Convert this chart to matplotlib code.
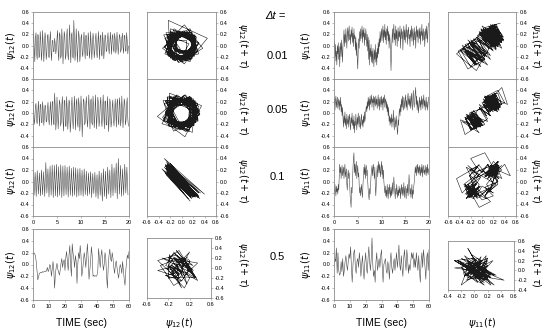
import numpy as np
import matplotlib.pyplot as plt

plt.rcParams['font.family'] = ['Liberation Sans', 'DejaVu Sans']

# time-step values shown in the middle column
dt_labels = ['0.01', '0.05', '0.1', '0.5']

# psi_12, dt = 0.01 (4 samples per cycle, 0-20 s)
psi12_a = [
    .04, .27, -.06, -.29, .13, .23, -.15, -.25, .20, .17, -.22, -.19, .25, .09, -.27, -.11,
    .27, .01, -.29, -.03, .23, .13, -.25, -.15, .17, .20, -.19, -.22, .09, .25, -.11, -.27,
    .09, .09, -.11, -.11, .13, .03, -.15, -.05,
    .13, .27, -.13, -.27, .23, .19, -.23, -.19, .30, .05, -.33, -.05, .25, .17, -.25, -.17,
    .15, .30, -.15, -.26, .05, .37, -.05, -.31, .19, .23, -.19, -.23, .45, .13, -.27, -.13,
    .30, .03, -.30, -.03, .26, .15, -.29, -.15,
    .14, .20, -.14, -.20, .06, .24, -.06, -.24, .18, .18, -.18, -.18, .23, .09, -.23, -.09,
    .25, .01, -.25, -.01, .22, .12, -.22, -.12, .12, .22, -.12, -.22, .02, .25, -.02, -.25,
    .16, .19, -.16, -.19, .24, .06, -.24, -.06,
    .19, .17, -.11, -.09, .11, .23, -.03, -.15, .04, .24, .04, -.16, .15, .20, -.07, -.12,
    .22, .12, -.14, -.04, .24, .06, -.16, .02, .20, .15, -.12, -.07, .12, .22, -.04, -.14,
    .18, .18, -.10, -.10, .23, .09, -.15, -.01,
]

# psi_12, dt = 0.05
psi12_b = [
    .18, .10, -.20, -.12, .12, .17, -.14, -.19, .03, .21, -.05, -.23, .15, .15, -.17, -.17,
    .20, .05, -.22, -.07, .14, .12, -.16, -.14, .07, .19, -.09, -.21, -.01, .20, -.01, -.22,
    .18, .21, -.18, -.21, .35, .13, -.30, -.13, .28, .02, -.28, -.02, .23, .16, -.23, -.16,
    .14, .29, -.14, -.32, .22, .22, -.22, -.24, .29, .08, -.29, -.08, .23, .19, -.34, -.19,
    .10, .28, -.10, -.28, .03, .30, -.03, -.30, .17, .25, -.17, -.25, .27, .13, -.32, -.13,
    .30, .06, -.42, -.06, .25, .21, -.21, -.17, .15, .29, -.11, -.25, .05, .32, -.01, -.28,
    .21, .25, -.17, -.21, .30, .12, -.26, -.08, .32, .03, -.28, .01, .28, .17, -.24, -.13,
    .17, .28, -.13, -.24, .07, .32, -.03, -.28, .21, .21, -.21, -.21, .29, .08, -.33, -.08,
    .25, .17, -.25, -.17, .11, .23, -.11, -.23, .02, .25, -.02, -.25, .18, .25, -.14, -.21,
    .27, .14, -.23, -.10, .30, .04, -.26, .00, .25, .18, -.21, -.14, .14, .27, -.10, -.23,
]

# psi_12, dt = 0.1 (peak / trough pairs)
psi12_c = [
    .18, -.24, .16, -.26, .19, -.22, .15, -.25, .20, -.23, .17, -.26, .33, -.20, .22, -.27,
    .27, -.24, .29, -.28, .28, -.25, .30, -.27, .26, -.24, .29, -.28, .27, -.25, .28, -.23,
    .25, -.27, .27, -.24, .23, -.26, .25, -.24, .24, -.27, .22, -.25, .23, -.24, .20, -.26,
    .22, -.23, .18, -.25, .15, -.22, .17, -.28, .14, -.21, .16, -.27, .12, -.30, .18, -.24,
    .15, -.34, .22, -.26, .18, -.30, .25, -.22, .20, -.28, .30, -.25, .24, -.20, .32, -.30,
    .40, -.22, .28, -.26, .22, -.24, .30, -.20, .25, -.23,
]

# psi_12, dt = 0.5 (0-60 s, every 0.5 s)
psi12_d = [
    .16, .20, .18, .15, .05, -.10, -.26, -.20, -.15, -.14,
    -.13, -.14, -.12, -.13, -.12, -.11, -.12, -.10, -.05, -.12,
    -.08, .00, -.03, -.20, -.08, .05, -.10, -.40, -.15, -.05,
    .02, -.08, -.12, -.18, -.10, .02, .10, -.05, .05, .08,
    -.10, .12, .22, .05, -.10, .15, .32, .00, -.20, .35,
    .20, .10, -.05, .15, .05, -.32, .00, .20, .10, .32,
    .15, -.20, -.10, .05, .20, .10, -.05, .15, .35, .10,
    -.25, -.10, .05, .30, .15, -.20, -.18, -.20, -.19, -.20,
    -.18, -.10, .27, .10, -.05, .15, .25, .05, -.10, .00,
    .20, .10, -.20, -.40, -.05, .15, .26, .10, .05, .20,
    .10, -.05, -.15, .00, .06, -.05, -.15, -.23, -.10, .00,
    -.05, -.15, .05, -.10, -.25, -.35, -.10, .05, .16, .10,
    .22,
]

# psi_11, dt = 0.01 (0-20 s, every 0.1 s)
psi11_a = [
    -.05, .08, -.20, .02, -.28, -.10, -.35, .00, -.15, .05,
    -.25, -.02, -.38, -.10, .05, -.20, .10, -.12, -.30, .02,
    .10, .28, -.02, .20, .05, .30, .12, -.05, .22, .32,
    .08, .25, .35, .10, .20, .02, .28, .15, .33, .05,
    .22, -.02, .30, .12, .18, -.08, .15, -.18, .05, -.25,
    -.42, -.10, .12, -.05, .25, .08, .30, .12, .22, .35,
    .05, .28, .15, .32, .00, .22, .10, .30, .18, -.02,
    .20, -.10, .15, -.25, .10, -.35, -.05, -.20, .02, -.30,
    -.10, -.32, -.05, -.20, -.38, -.08, -.25, .02, -.30, -.12,
    -.35, -.05, -.22, .05, -.15, .12, -.02, .25, .05, .18,
    .30, .08, .22, .35, .05, .28, .15, .38, .10, .25,
    .02, .30, .18, .35, .08, .25, -.05, .20, .10, -.10,
    -.45, -.15, .10, .30, .05, .25, .38, .10, .22, .00,
    .35, .12, .28, -.02, .22, .32, .08, .25, .15, .35,
    -.05, .20, .30, .12, .25, -.08, .18, .35, .10, .28,
    .05, .22, .38, .15, .28, .02, .25, .33, .12, .20,
    -.02, .28, .15, .35, .08, .22, .30, .00, .18, .32,
    .10, .25, -.05, .20, .35, .15, .28, .05, .22, .30,
    .12, .32, .02, .25, .18, .38, .08, .22, .30, .10,
    .25, -.02, .18, .30, .12, .35, .20, .05, .32, .40,
]

# psi_11, dt = 0.05
psi11_b = [
    .15, .25, .05, .22, .30, .10, .20, .28, .08, .18,
    .25, .05, .22, .12, .28, .02, .15, -.05, .10, -.10,
    -.25, -.05, -.18, .02, -.22, -.10, -.28, -.02, -.15, -.20,
    -.05, -.25, -.10, -.02, -.20, -.30, -.08, -.18, .00, -.22,
    -.12, -.28, -.05, -.35, -.15, -.22, -.02, -.18, -.30, -.08,
    -.20, .00, -.15, -.25, -.05, -.18, -.28, -.10, -.02, -.22,
    -.12, -.25, -.05, -.18, .02, -.15, -.08, .05, .12, .02,
    .20, .08, .28, .12, .25, .05, .30, .15, .22, .32,
    .10, .25, .18, .30, .05, .28, .20, .12, .30, .15,
    .25, .08, .22, .32, .12, .25, .05, .28, .18, .10,
    .30, .15, .25, .05, .28, .18, .32, .10, .22, .25,
    .08, .20, .02, .15, -.05, .10, -.15, -.05, -.22, -.08,
    -.18, -.02, -.25, -.10, -.15, .05, -.20, -.30, -.08, -.15,
    -.25, -.05, -.18, -.30, -.38, -.12, -.22, .00, .08, -.05,
    .15, .02, .25, .10, .30, .12, .05, .28, .18, .08,
    .25, .32, .10, .22, .05, .28, .35, .15, .25, .12,
    .30, .08, .22, .35, .15, .05, .28, .40, .18, .10,
    .25, .35, .45, .15, .30, .05, .22, .12, .00, .18,
    .28, .10, .22, .05, .30, .15, .25, .08, .20, .32,
    .12, .22, .05, .18, .28, .10, .20, .05, .15, .28,
]

# psi_11, dt = 0.1
psi11_c = [
    -.10, -.20, -.05, -.15, -.25, -.08, -.18, -.12, -.22, -.05,
    -.15, .10, .30, .15, .25, .05, .20, .28, .10, .18,
    .25, .05, .20, .30, .08, .15, .22, -.05, -.15, .10,
    .20, .05, .15, -.05, -.25, -.35, -.45, -.10, -.20, .05,
    .25, .40, .50, .15, .30, .10, .25, .35, .05, .20,
    .28, .08, .15, -.05, -.20, -.10, -.25, -.15, -.05, -.20,
    -.28, -.05, .10, .25, .12, .30, .05, .22, .28, .10,
    .20, .00, -.15, -.25, -.32, -.12, -.22, -.05, .10, .20,
    .28, .10, .22, .30, .15, .05, .25, -.10, -.25, -.05,
    .15, .28, .08, .22, .35, .15, .30, .20, .08, .25,
    .35, .12, .28, .05, .20, .00, -.10, -.20, -.08, -.25,
    -.15, -.28, -.05, -.20, -.30, -.10, -.22, -.05, -.18, -.28,
    -.10, -.25, -.15, -.02, -.22, -.12, .08, -.08, -.20, -.30,
    -.12, -.22, -.05, -.18, -.28, -.15, -.25, -.08, -.20, -.12,
    -.30, -.15, -.05, -.22, -.10, -.25, -.18, -.02, -.28, -.15,
    -.08, -.22, -.30, -.12, -.20, -.05, -.25, -.10, .12, -.05,
    -.22, -.12, -.28, -.18, -.05, -.30, -.15, -.22, -.08, .00,
    .10, .25, .15, .28, .10, .22, .30, .15, .25, .12,
    .28, .18, .10, .25, .15, .30, .08, .22, .28, .15,
    .20, .12, .28, .18, .10, .25, .15, .30, .12, .22,
]

# psi_11, dt = 0.5 (0-60 s, every 0.5 s)
psi11_d = [
    -.02, .10, .05, .28, -.15, .20, -.10, -.18, -.15, .05,
    -.12, .10, -.20, -.10, .05, .15, .00, -.10, .05, .18,
    .10, .30, -.05, -.30, .00, .20, .25, -.05, -.15, .05,
    .10, -.05, .20, .05, -.20, .00, .15, -.10, -.25, .05,
    .20, -.05, -.15, .10, .30, .05, -.10, .10, .45, .00,
    -.20, -.10, -.30, .05, .20, -.10, .00, .10, -.05, .15,
    .25, -.05, -.30, .00, .05, .10, -.10, -.15, .05, -.05,
    -.25, .05, .20, -.05, -.15, .00, .10, -.10, .05, .20,
    -.05, .10, .33, .00, -.10, .15, -.05, -.20, .10, .25,
    .05, -.10, .25, .10, -.15, .00, -.10, .05, .20, .10,
    .20, -.05, .10, -.05, .20, .05, -.10, .15, -.10, -.30,
    .05, .20, -.05, .25, .10, -.05, -.25, .10, .20, -.10,
    .25,
]

W, H = 550, 331
fig = plt.figure(figsize=(5.5, 3.31), dpi=100)
GRAY = '#8c8c8c'
TICKS = [-0.6, -0.4, -0.2, 0.0, 0.2, 0.4, 0.6]


def box(x0, y0, x1, y1):
    ax = fig.add_axes([x0 / W, 1 - y1 / H, (x1 - x0) / W, (y1 - y0) / H])
    for s in ax.spines.values():
        s.set_color(GRAY)
        s.set_linewidth(0.6)
    ax.tick_params(labelsize=4, length=1.5, width=0.4, color=GRAY, pad=1.2)
    return ax


def fmt(vals, skip=()):
    return ['' if v in skip else f'{v:.1f}' for v in vals]


def time_panel(rect, vals, step, tmax, xt, xlabels, hide_low):
    ax = box(*rect)
    t = np.arange(len(vals)) * step
    ax.plot(t, vals, color='#4a4a4a', lw=0.4)
    ax.set_xlim(0, tmax)
    ax.set_ylim(-0.6, 0.6)
    ax.set_yticks(TICKS)
    ax.set_yticklabels(fmt(TICKS, (-0.6,) if hide_low else ()))
    ax.set_xticks(xt)
    ax.set_xticklabels([str(v) for v in xt] if xlabels else [])
    return ax


def phase_panel(rect, vals, delay, lims, xt, yt, xlabels, hide_top=False):
    ax = box(*rect)
    s = np.asarray(vals)
    ax.plot(s[:-delay], s[delay:], color='#1a1a1a', lw=0.4)
    ax.set_xlim(*lims[0])
    ax.set_ylim(*lims[1])
    ax.yaxis.tick_right()
    ax.set_yticks(yt)
    ax.set_yticklabels(fmt(yt, (0.6,) if hide_top else ()))
    ax.set_xticks(xt)
    ax.set_xticklabels(fmt(xt) if xlabels else [])
    return ax


rows = [(12, 79), (79, 147), (147, 216)]
left_series = [psi12_a, psi12_b, psi12_c]
left_steps = [20 / len(psi12_a), 20 / len(psi12_b), 20 / len(psi12_c)]
right_series = [psi11_a, psi11_b, psi11_c]
right_delay = [1, 1, 3]
full = ((-0.6, 0.6), (-0.6, 0.6))
for i, (y0, y1) in enumerate(rows):
    last = i == 2
    time_panel((33, y0, 129, y1), left_series[i], left_steps[i], 20, [0, 5, 10, 15, 20], last, not last)
    phase_panel((147, y0, 216, y1), left_series[i], 1, full, TICKS, TICKS, last, i > 0)
    time_panel((334, y0, 429, y1), right_series[i], 0.1, 20, [0, 5, 10, 15, 20], last, not last)
    phase_panel((448, y0, 516, y1), right_series[i], right_delay[i], full, TICKS, TICKS, last, i > 0)

# bottom row, dt = 0.5
time_panel((33, 229, 129, 300), psi12_d, 0.5, 60, [0, 10, 20, 30, 40, 50, 60], True, False)
time_panel((334, 229, 429, 300), psi11_d, 0.5, 60, [0, 10, 20, 30, 40, 50, 60], True, False)
phase_panel((147, 238, 211, 298), psi12_d, 2, full, [-0.6, -0.2, 0.2, 0.6], TICKS, True)
phase_panel((448, 241, 514, 290), psi11_d, 2, ((-0.4, 0.6), (-0.4, 0.6)),
            [-0.4, -0.2, 0.0, 0.2, 0.4, 0.6], [-0.4, -0.2, 0.0, 0.2, 0.4, 0.6], True)

# labels
centers = [46, 113, 181, 265]
for yc in centers:
    fig.text(11 / W, 1 - yc / H, r'$\psi_{12}(t)$', rotation=90, ha='center', va='center', fontsize=7)
    fig.text(306 / W, 1 - yc / H, r'$\psi_{11}(t)$', rotation=90, ha='center', va='center', fontsize=7)
    fig.text(243 / W, 1 - yc / H, r'$\psi_{12}(t+\tau)$', rotation=270, ha='center', va='center', fontsize=7)
    fig.text(536 / W, 1 - yc / H, r'$\psi_{11}(t+\tau)$', rotation=270, ha='center', va='center', fontsize=7)

dt_y = [56, 110, 177, 257]
fig.text(275 / W, 1 - 16 / H, '\u0394t =', style='italic', ha='center', va='center', fontsize=8)
for lab, yc in zip(dt_labels, dt_y):
    fig.text(277 / W, 1 - yc / H, lab, ha='center', va='center', fontsize=8)

fig.text(81 / W, 1 - 323 / H, 'TIME (sec)', ha='center', va='center', fontsize=7.5)
fig.text(381 / W, 1 - 323 / H, 'TIME (sec)', ha='center', va='center', fontsize=7.5)
fig.text(179 / W, 1 - 323 / H, r'$\psi_{12}(t)$', ha='center', va='center', fontsize=7)
fig.text(482 / W, 1 - 323 / H, r'$\psi_{11}(t)$', ha='center', va='center', fontsize=7)

fig.savefig('out.png', dpi=100)
